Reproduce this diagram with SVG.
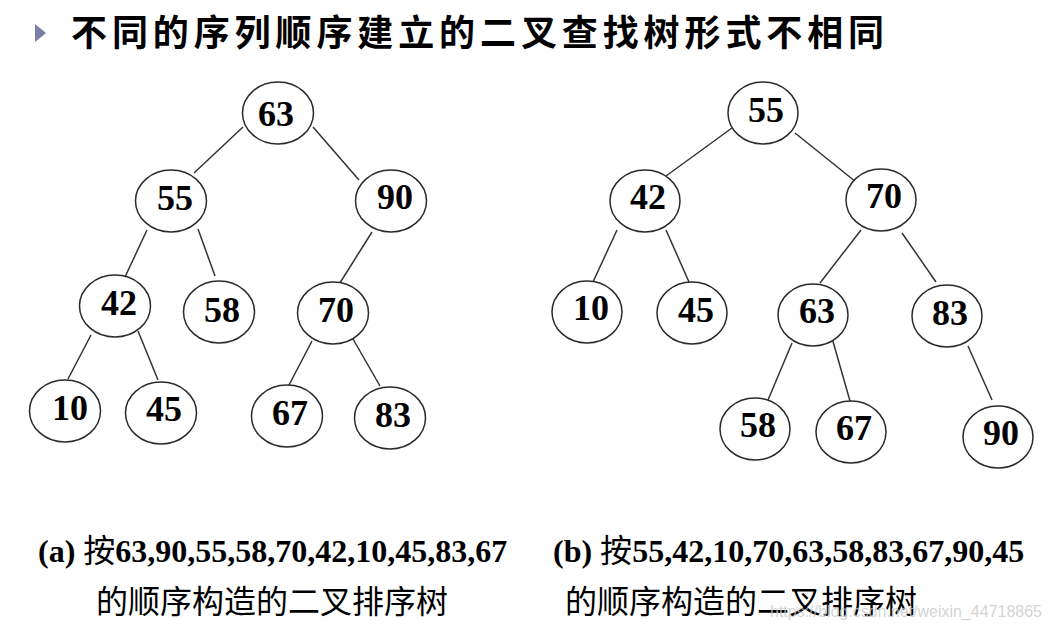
<svg xmlns="http://www.w3.org/2000/svg" width="1052" height="630" viewBox="0 0 1052 630">
<style>
.n ellipse{fill:#fff;stroke:#2a2a2a;stroke-width:1.5}
.n text{font-family:"Liberation Serif","Times New Roman",serif;font-weight:bold;font-size:36px;fill:#000;text-anchor:middle}
#edges line{stroke:#333;stroke-width:1.5}
.cap{font-family:"Liberation Serif","Noto Sans CJK SC",serif;font-size:32px;fill:#000}
.title{font-family:"Noto Sans CJK SC",sans-serif;font-weight:bold;font-size:36px;letter-spacing:4.9px;fill:#000}
</style>
<rect width="1052" height="630" fill="#fff"/>
<polygon points="35,24 46,33 35,42" fill="#7b7fa6"/>
<text class="title" x="71" y="46">不同的序列顺序建立的二叉查找树形式不相同</text>

<g id="edges">
<line x1="243" y1="127" x2="194" y2="173"/>
<line x1="313" y1="127" x2="359" y2="180"/>
<line x1="147" y1="230" x2="125" y2="277"/>
<line x1="198" y1="229" x2="215" y2="276"/>
<line x1="372" y1="232" x2="338" y2="286"/>
<line x1="91" y1="335" x2="68" y2="379"/>
<line x1="138" y1="331" x2="158" y2="380"/>
<line x1="312" y1="341" x2="289" y2="385"/>
<line x1="353" y1="339" x2="380" y2="386"/>

<line x1="732" y1="128" x2="666" y2="176"/>
<line x1="795" y1="133" x2="856" y2="182"/>
<line x1="617" y1="230" x2="593" y2="282"/>
<line x1="666" y1="230" x2="689" y2="282"/>
<line x1="861" y1="230" x2="820" y2="283"/>
<line x1="902" y1="233" x2="936" y2="282"/>
<line x1="792" y1="343" x2="768" y2="400"/>
<line x1="832" y1="338" x2="850" y2="401"/>
<line x1="968" y1="346" x2="992" y2="400"/>
</g>

<g id="a63" class="n"><ellipse cx="278" cy="113" rx="35.5" ry="31"/><text x="276" y="126">63</text></g>
<g id="a55" class="n"><ellipse cx="171" cy="201" rx="35.5" ry="31"/><text x="175" y="210">55</text></g>
<g id="a90" class="n"><ellipse cx="391" cy="201" rx="35.5" ry="31"/><text x="395" y="209">90</text></g>
<g id="a42" class="n"><ellipse cx="115" cy="306" rx="35.5" ry="31"/><text x="119" y="315">42</text></g>
<g id="a58" class="n"><ellipse cx="219" cy="312" rx="35.5" ry="31"/><text x="222" y="322">58</text></g>
<g id="a70" class="n"><ellipse cx="333" cy="313" rx="35.5" ry="31"/><text x="336" y="322">70</text></g>
<g id="a10" class="n"><ellipse cx="65" cy="411" rx="35.5" ry="31"/><text x="70" y="420">10</text></g>
<g id="a45" class="n"><ellipse cx="161" cy="413" rx="35.5" ry="31"/><text x="164" y="421">45</text></g>
<g id="a67" class="n"><ellipse cx="287" cy="416" rx="35.5" ry="31"/><text x="290" y="425">67</text></g>
<g id="a83" class="n"><ellipse cx="390" cy="418" rx="35.5" ry="31"/><text x="393" y="427">83</text></g>

<g id="b55" class="n"><ellipse cx="763" cy="113" rx="35" ry="31"/><text x="766" y="122">55</text></g>
<g id="b42" class="n"><ellipse cx="645" cy="201" rx="35" ry="31"/><text x="648" y="209">42</text></g>
<g id="b70" class="n"><ellipse cx="881" cy="200" rx="35" ry="31"/><text x="884" y="208">70</text></g>
<g id="b10" class="n"><ellipse cx="587" cy="312" rx="35" ry="31"/><text x="591" y="320">10</text></g>
<g id="b45" class="n"><ellipse cx="692" cy="313" rx="35" ry="31"/><text x="696" y="322">45</text></g>
<g id="b63" class="n"><ellipse cx="813" cy="315" rx="35" ry="31"/><text x="817" y="323">63</text></g>
<g id="b83" class="n"><ellipse cx="947" cy="316" rx="35" ry="31"/><text x="950" y="325">83</text></g>
<g id="b58" class="n"><ellipse cx="755" cy="429" rx="35" ry="31"/><text x="758" y="437">58</text></g>
<g id="b67" class="n"><ellipse cx="851" cy="432" rx="35" ry="31"/><text x="854" y="440">67</text></g>
<g id="b90" class="n"><ellipse cx="998" cy="437" rx="35" ry="31"/><text x="1001" y="445">90</text></g>

<text class="cap" x="38" y="562"><tspan font-weight="bold">(a) </tspan><tspan>按</tspan><tspan font-weight="bold">63,90,55,58,70,42,10,45,83,67</tspan></text>
<text class="cap" x="96" y="613">的顺序构造的二叉排序树</text>
<text class="cap" x="553" y="562"><tspan font-weight="bold">(b) </tspan><tspan>按</tspan><tspan font-weight="bold">55,42,10,70,63,58,83,67,90,45</tspan></text>
<text class="cap" x="565" y="613">的顺序构造的二叉排序树</text>
<text x="770" y="617" font-family="Liberation Sans,Arial,sans-serif" font-size="16" fill="#c8c8c8" fill-opacity="0.8" textLength="272">https://blog.csdn.net/weixin_44718865</text>
</svg>
